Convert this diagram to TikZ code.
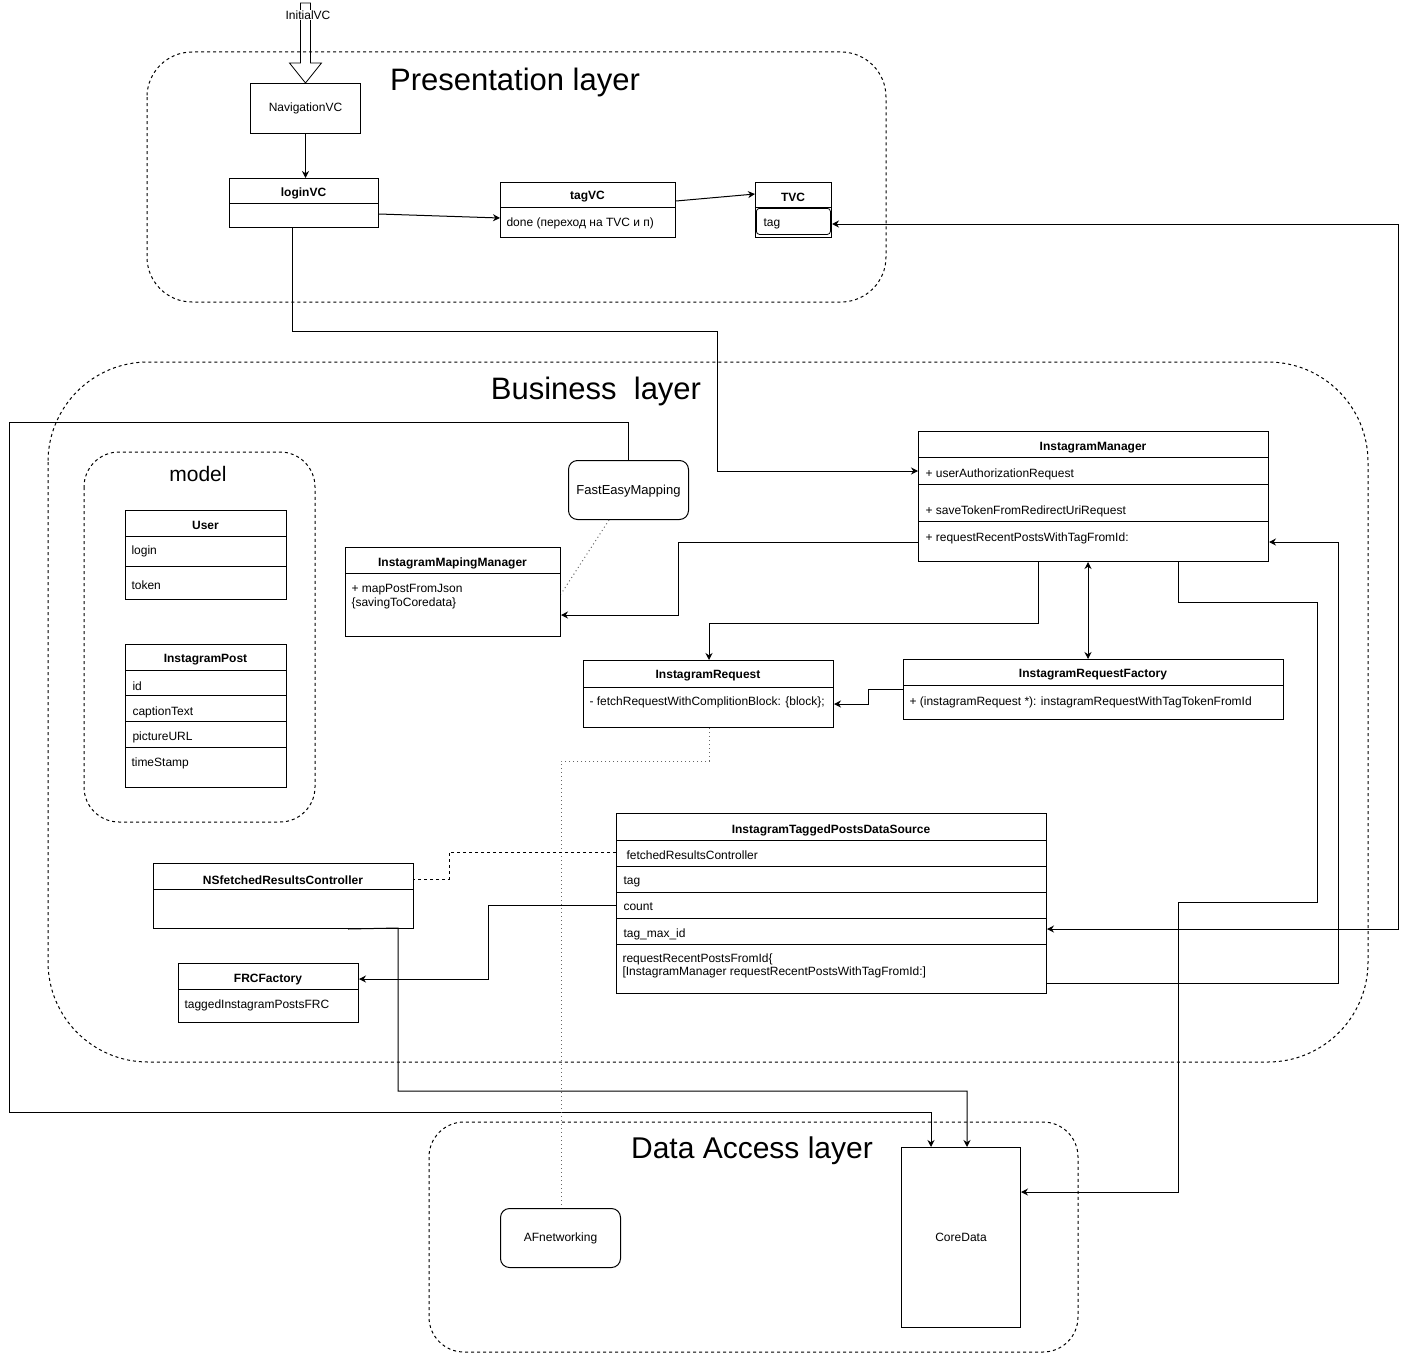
\documentclass[tikz,border=0pt]{standalone}
\usepackage{fontspec}
\setmainfont{Liberation Sans}
\usetikzlibrary{positioning,arrows.meta,calc}

\begin{document}
\begin{tikzpicture}[
    x=1pt,y=-1pt,
    font=\fontsize{12}{14}\selectfont,
    line width=1pt,
    box/.style={draw,anchor=north west,inner sep=0pt},
    rbox/.style={box,rounded corners=9pt},
    title/.style={font=\bfseries\fontsize{12}{14}\selectfont,inner sep=0pt,yshift=-2pt},
    row/.style={anchor=west,inner sep=0pt,align=left,font=\fontsize{12}{13.5}\selectfont,yshift=-2pt},
    layer/.style={draw,dash pattern=on 3pt off 3pt,rounded corners=#1},
    layertitle/.style={font=\fontsize{31}{36}\selectfont,inner sep=0pt,yshift=-3pt},
    link/.style={-{Stealth[length=7pt,width=7pt]}},
    dlink/.style={{Stealth[length=7pt,width=7pt]}-{Stealth[length=7pt,width=7pt]}},
    dashlink/.style={dash pattern=on 3pt off 3pt},
    dotlink/.style={dash pattern=on 1pt off 3pt,draw=black!60}
  ]
  \fill[white] (0,0) rectangle (1410,1354);
  \useasboundingbox (0,0) rectangle (1410,1354);

  % layers
  \draw[layer=45pt] (147,52) rectangle (886,302);
  \node[layertitle] (pres) at (515,79) {Presentation layer};
  \draw[layer=100pt] (48,362) rectangle (1368,1062);
  \node[layertitle] (bus) at (596,388) {Business\ \ layer};
  \draw[layer=35pt] (84,452) rectangle (315,822);
  \node[font=\fontsize{21}{25}\selectfont,inner sep=0pt,yshift=-2pt] (mod) at (198,472) {model};
  \draw[layer=35pt] (429,1122) rectangle (1078,1352);
  \node[layertitle,font=\fontsize{30}{36}\selectfont] (dal) at (752,1148) {Data Access layer};

  % presentation
  \node[box,minimum width=110pt,minimum height=50pt] (nav) at (250,83) {NavigationVC};
  \draw[line width=0.8pt] (nav.north) -- ++(-16,-20) -- ++(11,0) -- ++(0,-60)
    -- ++(10,0) -- ++(0,60) -- ++(11,0) -- cycle;
  \node[fill=white,inner sep=1pt] (init) at (308,15) {InitialVC};

  \node[box,minimum width=149pt,minimum height=49pt] (login) at (229,178) {};
  \node[title] (login-t) at (303.5,191) {loginVC};
  \draw (229,203) -- (378,203);

  \node[box,minimum width=175pt,minimum height=55pt] (tagvc) at (500,182) {};
  \node[title] (tagvc-t) at (587.5,195) {tagVC};
  \draw (500,207) -- (675,207);
  \node[row] (tagvc-1) at (506,221) {done (переход на TVC и п)};

  \node[box,minimum width=76pt,minimum height=55pt] (tvc) at (755,182) {};
  \node[title] (tvc-t) at (793,195) {TVC};
  \draw (755,207) -- (831,207);
  \node[box,rounded corners=3pt,line width=0.8pt,minimum width=74pt,minimum height=26pt] (tvc-tag) at (756,208) {};
  \node[row] (tvc-1) at (763,222) {tag};

  \draw[link] (nav.south) -- (nav.south |- login.north);
  \draw[link] (login.east |- 0,214) -- (tagvc.west |- 0,218);
  \draw[link] (tagvc.east |- 0,201) -- (tvc.west |- 0,194);

  % model
  \node[box,minimum width=161pt,minimum height=89pt] (user) at (125,510) {};
  \node[title] (user-t) at (205.5,523) {User};
  \foreach \y in {536,566} \draw (125,\y) -- (286,\y);
  \node[row] (user-1) at (131,549) {login};
  \node[row] (user-2) at (131,583) {token};

  \node[box,minimum width=161pt,minimum height=143pt] (post) at (125,644) {};
  \node[title] (post-t) at (205.5,658) {InstagramPost};
  \foreach \y in {670,695,721,747} \draw (125,\y) -- (286,\y);
  \node[row] (post-1) at (132,684) {id};
  \node[row] (post-2) at (132,710) {captionText};
  \node[row] (post-3) at (132,735) {pictureURL};
  \node[row] (post-4) at (131,761) {timeStamp};

  % business
  \node[rbox,minimum width=120pt,minimum height=59pt,font=\fontsize{13}{15}\selectfont,text depth=-6pt] (fem) at (568,460) {FastEasyMapping};

  \node[box,minimum width=215pt,minimum height=89pt] (imm) at (345,547) {};
  \node[title] (imm-t) at (452.5,561) {InstagramMapingManager};
  \draw (345,573) -- (560,573);
  \node[row] (imm-1) at (351,594.5) {+ mapPostFromJson\\\{savingToCoredata\}};

  \node[box,minimum width=350pt,minimum height=130pt] (im) at (918,431) {};
  \node[title] (im-t) at (1093,446) {InstagramManager};
  \foreach \y in {457,484,521} \draw (918,\y) -- (1268,\y);
  \node[row] (im-1) at (925,472) {+ userAuthorizationRequest};
  \node[row] (im-2) at (925,509) {+ saveTokenFromRedirectUriRequest};
  \node[row] (im-3) at (925,536) {+ requestRecentPostsWithTagFromId:};

  \node[box,minimum width=250pt,minimum height=67pt] (ir) at (583,660) {};
  \node[title] (ir-t) at (708,674) {InstagramRequest};
  \draw (583,687) -- (833,687);
  \node[row] (ir-1) at (589,700) {- fetchRequestWithComplitionBlock: \{block\};};

  \node[box,minimum width=380pt,minimum height=60pt] (irf) at (903,659) {};
  \node[title] (irf-t) at (1093,673) {InstagramRequestFactory};
  \draw (903,685) -- (1283,685);
  \node[row] (irf-1) at (909,700) {+ (instagramRequest *): instagramRequestWithTagTokenFromId};

  \node[box,minimum width=430pt,minimum height=180pt] (ds) at (616,813) {};
  \node[title] (ds-t) at (831,828) {InstagramTaggedPostsDataSource};
  \foreach \y in {840,866,892,918,944} \draw (616,\y) -- (1046,\y);
  \node[row] (ds-1) at (626,853) {fetchedResultsController};
  \node[row] (ds-2) at (623,880) {tag};
  \node[row] (ds-3) at (623,905) {count};
  \node[row] (ds-4) at (623,932) {tag\_max\_id};
  \node[row] (ds-5) at (622,964) {requestRecentPostsFromId\{\\{[}InstagramManager requestRecentPostsWithTagFromId:{]}};

  \node[box,minimum width=260pt,minimum height=65pt] (nsfrc) at (153,863) {};
  \node[title] (nsfrc-t) at (283,878) {NSfetchedResultsController};
  \draw (153,889) -- (413,889);

  \node[box,minimum width=180pt,minimum height=59pt] (frc) at (178,963) {};
  \node[title] (frc-t) at (268,978) {FRCFactory};
  \draw (178,989) -- (358,989);
  \node[row] (frc-1) at (184,1003) {taggedInstagramPostsFRC};

  % data access
  \node[rbox,minimum width=120pt,minimum height=59pt] (afn) at (500,1208) {AFnetworking};
  \node[box,minimum width=119pt,minimum height=180pt] (cd) at (901,1147) {CoreData};

  % connectors
  \draw[dlink] (tvc.east |- 0,224) -- (1398,224) -- (1398,929) -- (ds.east |- 0,929);
  \draw[link] (login.south -| 292,0) -- (292,331) -- (717,331) -- (717,471) -- (im.west |- 0,471);
  \draw[link] (fem.north) -- (fem.north |- 0,422) -- (9,422) -- (9,1112) -- (931,1112) -- (cd.north -| 931,0);
  \draw[dotlink] (fem.south -| 609,0) -- (imm.east |- 0,594);
  \draw[link] (im.west |- 0,542) -- (678,542) -- (678,615) -- (imm.east |- 0,615);
  \draw[link] (im.south -| 1038,0) -- (1038,623) -- (709,623) -- (ir.north -| 709,0);
  \draw[dlink] (im.south -| 1088,0) -- (irf.north -| 1088,0);
  \draw[link] (im.south -| 1178,0) -- (1178,602) -- (1317,602) -- (1317,902) -- (1178,902) -- (1178,1192) -- (cd.east |- 0,1192);
  \draw[link] (ds.east |- 0,983) -- (1338,983) -- (1338,542) -- (im.east |- 0,542);
  \draw[link] (irf.west |- 0,689) -- (868,689) -- (868,704) -- (ir.east |- 0,704);
  \draw[dotlink] (ir.south -| 709,0) -- (709,761) -- (561,761) -- (afn.north -| 561,0);
  \draw[dashlink] (ds.west |- 0,852) -- (449,852) -- (449,879) -- (nsfrc.east |- 0,879);
  \draw[link] (ds.west |- 0,905) -- (488,905) -- (488,979) -- (frc.east |- 0,979);
  \draw[link] (nsfrc.south -| 348,0) -- (398,928) -- (398,1091) -- (967,1091) -- (cd.north -| 967,0);
\end{tikzpicture}
\end{document}
